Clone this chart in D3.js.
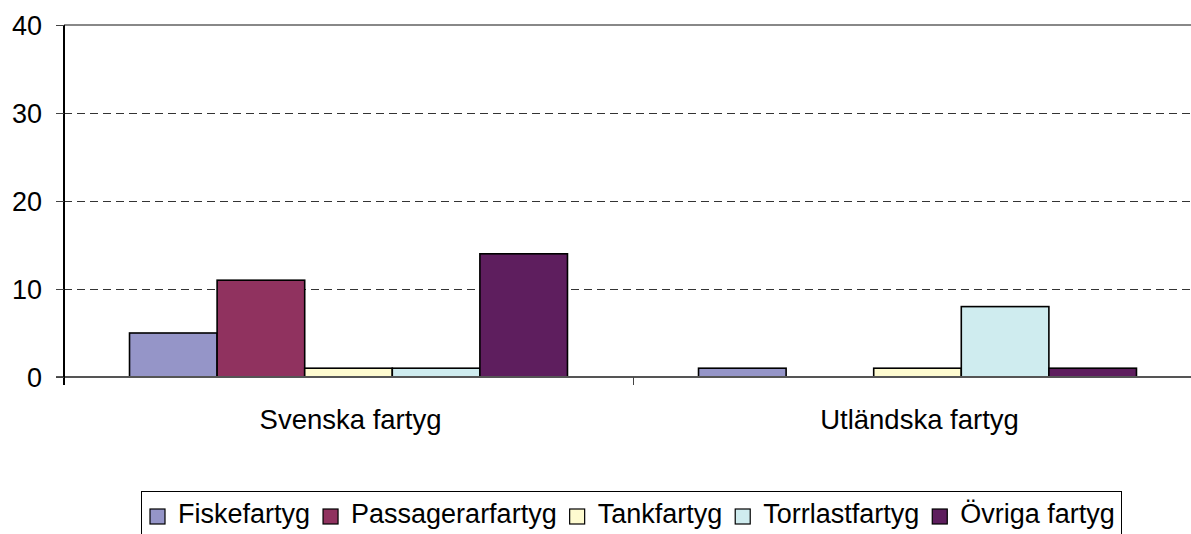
<!DOCTYPE html>
<html><head><meta charset="utf-8">
<script src="https://cdn.jsdelivr.net/npm/d3@7"></script>
<style>body{margin:0;background:#fff}svg{display:block;font-family:"Liberation Sans",Arial,sans-serif}line{shape-rendering:crispEdges}</style>
</head><body><svg id="c" width="1191" height="534"></svg>
<script>
const categories = ["Svenska fartyg", "Utländska fartyg"];
const seriesNames = ["Fiskefartyg", "Passagerarfartyg", "Tankfartyg", "Torrlastfartyg", "Övriga fartyg"];
const fiskefartyg = [5, 1];
const passagerarfartyg = [11, 0];
const tankfartyg = [1, 1];
const torrlastfartyg = [1, 8];
const ovrigaFartyg = [14, 1];
const yTicks = [0, 10, 20, 30, 40];
const colors = ["#9595C8", "#90325F", "#FEFBD0", "#CFECEF", "#5E1E5E"];

(function () {
const seriesValues = [fiskefartyg, passagerarfartyg, tankfartyg, torrlastfartyg, ovrigaFartyg];
const svg = d3.select("#c");
const pLeft = 64, pRight = 1202, pTop = 25, pBottom = 377;
const y = d3.scaleLinear().domain([0, 40]).range([pBottom, pTop]);
const x0 = d3.scaleBand().domain(categories).range([pLeft, pRight]).padding(0);
const x1 = d3.scaleBand().domain(seriesNames).range([0, x0.bandwidth()]).paddingInner(0).paddingOuter(0.748);

// gridlines
svg.append("g").selectAll("line").data(yTicks.filter(d => d > 0 && d < 40)).join("line")
  .attr("x1", pLeft).attr("x2", 1191).attr("y1", d => y(d) + 0.5).attr("y2", d => y(d) + 0.5)
  .attr("stroke", "#333").attr("stroke-width", 1).attr("stroke-dasharray", "8,5");
// top border
svg.append("line").attr("x1", pLeft).attr("x2", 1191).attr("y1", y(40)).attr("y2", y(40))
  .attr("stroke", "#888").attr("stroke-width", 2);

// bars
const g = svg.append("g");
categories.forEach((c, ci) => {
  seriesNames.forEach((s, si) => {
    const v = seriesValues[si][ci];
    if (v <= 0) return;
    g.append("rect")
      .attr("x", x0(c) + x1(s)).attr("width", x1.bandwidth())
      .attr("y", y(v)).attr("height", y(0) - y(v))
      .attr("fill", colors[si]).attr("stroke", "#000").attr("stroke-width", 1.6);
  });
});

// x axis line
svg.append("line").attr("x1", pLeft - 8).attr("x2", 1191).attr("y1", y(0)).attr("y2", y(0))
  .attr("stroke", "#555").attr("stroke-width", 2);
// category ticks
const catTicks = [pLeft, x0(categories[1]), pRight];
svg.append("g").selectAll("line").data(catTicks).join("line")
  .attr("x1", d => d + 0.5).attr("x2", d => d + 0.5).attr("y1", y(0)).attr("y2", y(0) + 8)
  .attr("stroke", "#444").attr("stroke-width", 1);

// y axis
svg.append("line").attr("x1", pLeft).attr("x2", pLeft).attr("y1", pTop).attr("y2", y(0) + 8)
  .attr("stroke", "#000").attr("stroke-width", 2);
svg.append("g").selectAll("line").data(yTicks).join("line")
  .attr("x1", pLeft - 8).attr("x2", pLeft).attr("y1", d => y(d) + 0.5).attr("y2", d => y(d) + 0.5)
  .attr("stroke", "#444").attr("stroke-width", 1);
svg.append("g").selectAll("text").data(yTicks).join("text")
  .attr("x", 42).attr("y", d => y(d) + 9.5).attr("text-anchor", "end")
  .attr("font-size", 27).attr("fill", "#000").text(d => d);

// category labels
svg.append("g").selectAll("text").data(categories).join("text")
  .attr("x", d => x0(d) + x0.bandwidth() / 2 + 2).attr("y", 429).attr("text-anchor", "middle")
  .attr("font-size", 27.5).attr("fill", "#000").text(d => d);

// legend
const lg = svg.append("g");
lg.append("rect").attr("x", 141.5).attr("y", 491.5).attr("width", 980).attr("height", 60)
  .attr("fill", "#fff").attr("stroke", "#000").attr("stroke-width", 1);
let lx = 150;
seriesNames.forEach((s, i) => {
  lg.append("rect").attr("x", lx).attr("y", 509).attr("width", 15).attr("height", 15)
    .attr("fill", colors[i]).attr("stroke", "#000").attr("stroke-width", 1.2);
  const t = lg.append("text").attr("x", lx + 28).attr("y", 523).attr("font-size", 27)
    .attr("fill", "#000").text(s);
  const w = t.node().getComputedTextLength();
  lx += 28 + w + 13;
});
})();
</script></body></html>
